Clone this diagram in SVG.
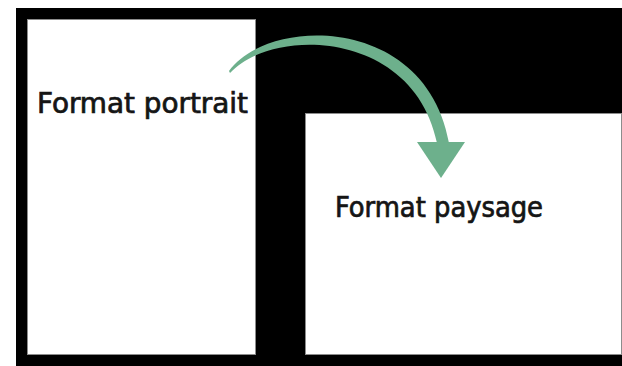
<svg xmlns="http://www.w3.org/2000/svg" width="622" height="366" viewBox="0 0 622 366">
<style>
.page{fill:#ffffff;stroke:#8c8c8c;stroke-width:1}
.lbl{font-family:"DejaVu Sans Condensed","DejaVu Sans",Verdana,sans-serif;font-size:28px;fill:#151515;stroke:#151515;stroke-width:0.7}
.arr{fill:#6db08c}
</style>
<rect x="16" y="8" width="606" height="358" fill="#000000"/>
<g id="portrait">
<rect class="page" x="27.5" y="19.5" width="228" height="335"/>
<text class="lbl" x="37" y="113" textLength="211" lengthAdjust="spacingAndGlyphs">Format portrait</text>
</g>
<g id="paysage">
<rect class="page" x="305.5" y="113.5" width="316" height="241"/>
<text class="lbl" x="335" y="217" textLength="208" lengthAdjust="spacingAndGlyphs">Format paysage</text>
</g>
<g id="connectors">
<path class="arr" d="M229,71 C268,16 426,14 449,143 L437,143 C414,30 273,26 230,73 Z"/>
<polygon class="arr" points="417,142 465,142 441,178"/>
</g>
</svg>
